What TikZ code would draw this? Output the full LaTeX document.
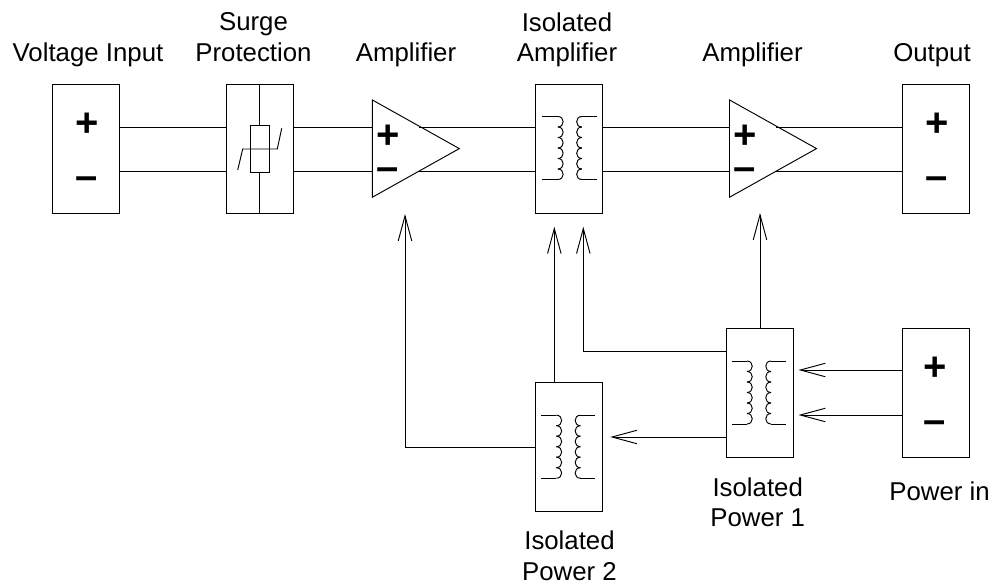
\documentclass[tikz,border=0pt]{standalone}
\usepackage{fontspec}
\setmainfont{Liberation Sans}
\usetikzlibrary{arrows.meta, shapes.geometric}
\tikzset{
  lbl/.style={align=center, inner sep=0pt, font=\fontsize{25.8}{30.7}\selectfont},
  sign/.style={inner sep=0pt, font=\fontsize{40}{40}\bfseries\selectfont},
  portbox/.style={draw, minimum width=67pt, minimum height=129pt, inner sep=0pt, outer sep=0pt},
  ampbox/.style={draw, isosceles triangle, isosceles triangle stretches, minimum width=97.3pt, minimum height=87pt, inner sep=0pt, outer sep=0pt, anchor=west},
  sig/.style={-{Straight Barb[length=25pt,width=13.5pt]}},
  coilpair/.pic={
    \draw (-28,-31.5) -- (-12.5,-31.5);
    \foreach \k in {0,...,5} \draw (-12.5,-31.5+10.5*\k) .. controls (-5.5,-31.5+10.5*\k) and (-5.5,-21+10.5*\k) .. (-12.5,-21+10.5*\k);
    \draw (-28,31.5) -- (-12.5,31.5);
    \draw (26.3,-31.5) -- (11.5,-31.5);
    \foreach \k in {0,...,5} \draw (11.5,-31.5+10.5*\k) .. controls (4.5,-31.5+10.5*\k) and (4.5,-21+10.5*\k) .. (11.5,-21+10.5*\k);
    \draw (26.3,31.5) -- (11.5,31.5);
  }
}
\begin{document}
\begin{tikzpicture}[x=1pt, y=-1pt, line width=0.95pt]
  \useasboundingbox (0,0) rectangle (992,585);
  \coordinate (wirep) at (0,127);
  \coordinate (wiren) at (0,171);

  % Boxes in the top row
  \node[portbox] (vin) at (86,148.6) {};
  \node[portbox] (surge) at (259.7,148.6) {};
  \node[ampbox] (ampa) at (372.3,148.6) {};
  \node[portbox] (isoa) at (568.7,148.6) {};
  \node[ampbox] (ampb) at (729.5,148.6) {};
  \node[portbox] (vout) at (936,148.6) {};

  % Boxes in the power part
  \node[portbox] (isopb) at (759.7,392.7) {};
  \node[portbox] (isopc) at (568.7,447) {};
  \node[portbox] (pwr) at (936,392.7) {};

  % Signs
  \node[sign] (vinp) at (87.3,125) {+};
  \node[sign] (vinn) at (87,183) {--};
  \node[sign] (ampap) at (388,137) {+};
  \node[sign] (ampan) at (388,174) {--};
  \node[sign] (ampbp) at (745,137) {+};
  \node[sign] (ampbn) at (745,174) {--};
  \node[sign] (voutp) at (937,125) {+};
  \node[sign] (voutn) at (937,183) {--};
  \node[sign] (pwrp) at (935,369) {+};
  \node[sign] (pwrn) at (935,427) {--};

  % Varistor
  \node[draw, minimum width=19pt, minimum height=46.6pt, inner sep=0pt, outer sep=0pt] (vari) at (259.7,149) {};
  \draw (surge.north) -- (vari.north);
  \draw (vari.south) -- (surge.south);
  \draw (237.7,170) -- (242.7,149) -- (277.3,149) -- (281.7,128.3);

  % Coils
  \pic at (570.4,148) {coilpair};
  \pic at (759.5,392.5) {coilpair};
  \pic at (568.9,446.7) {coilpair};

  % Signal wires
  \coordinate (exita) at (419,0);
  \coordinate (exitb) at (776,0);
  \foreach \w in {wirep,wiren} {
    \draw (vin.east |- \w) -- (surge.west |- \w);
    \draw (surge.east |- \w) -- (ampa.west |- \w);
    \draw (exita |- \w) -- (isoa.west |- \w);
    \draw (isoa.east |- \w) -- (ampb.west |- \w);
    \draw (exitb |- \w) -- (vout.west |- \w);
  }

  % Power wires
  \coordinate (tipa) at (405,214);
  \coordinate (tipb) at (554.3,226.7);
  \coordinate (tipc) at (583.3,226.7);
  \coordinate (tipd) at (760,213);
  \coordinate (inp) at (0,370);
  \coordinate (inn) at (0,415);
  \coordinate (outc) at (0,437);
  \draw[sig] (isopc.west |- 0,447) -| (tipa);
  \draw[sig] (isopc.north -| tipb) -- (tipb);
  \draw[sig] (isopb.west |- 0,351) -| (tipc);
  \draw[sig] (isopb.north -| tipd) -- (tipd);
  \draw[sig, shorten >=5.3pt] (pwr.west |- inp) -- (isopb.east |- inp);
  \draw[sig, shorten >=5.3pt] (pwr.west |- inn) -- (isopb.east |- inn);
  \draw[sig, shorten >=8pt] (isopb.west |- outc) -- (isopc.east |- outc);

  % Labels
  \node[lbl] (lblvin) at (88,55) {Voltage Input};
  \node[lbl] (lblsurge) at (253.5,37) {Surge\\Protection};
  \node[lbl] (lblampa) at (406,55) {Amplifier};
  \node[lbl] (lblisoa) at (567,39.7) {Isolated\\Amplifier};
  \node[lbl] (lblampb) at (752.5,55) {Amplifier};
  \node[lbl] (lblvout) at (932,55) {Output};
  \node[lbl] (lblisopb) at (757.7,502.3) {Isolated\\Power 1};
  \node[lbl] (lblpwr) at (939.5,491) {Power in};
  \node[lbl] (lblisopc) at (569.5,556) {Isolated\\Power 2};
\end{tikzpicture}
\end{document}
